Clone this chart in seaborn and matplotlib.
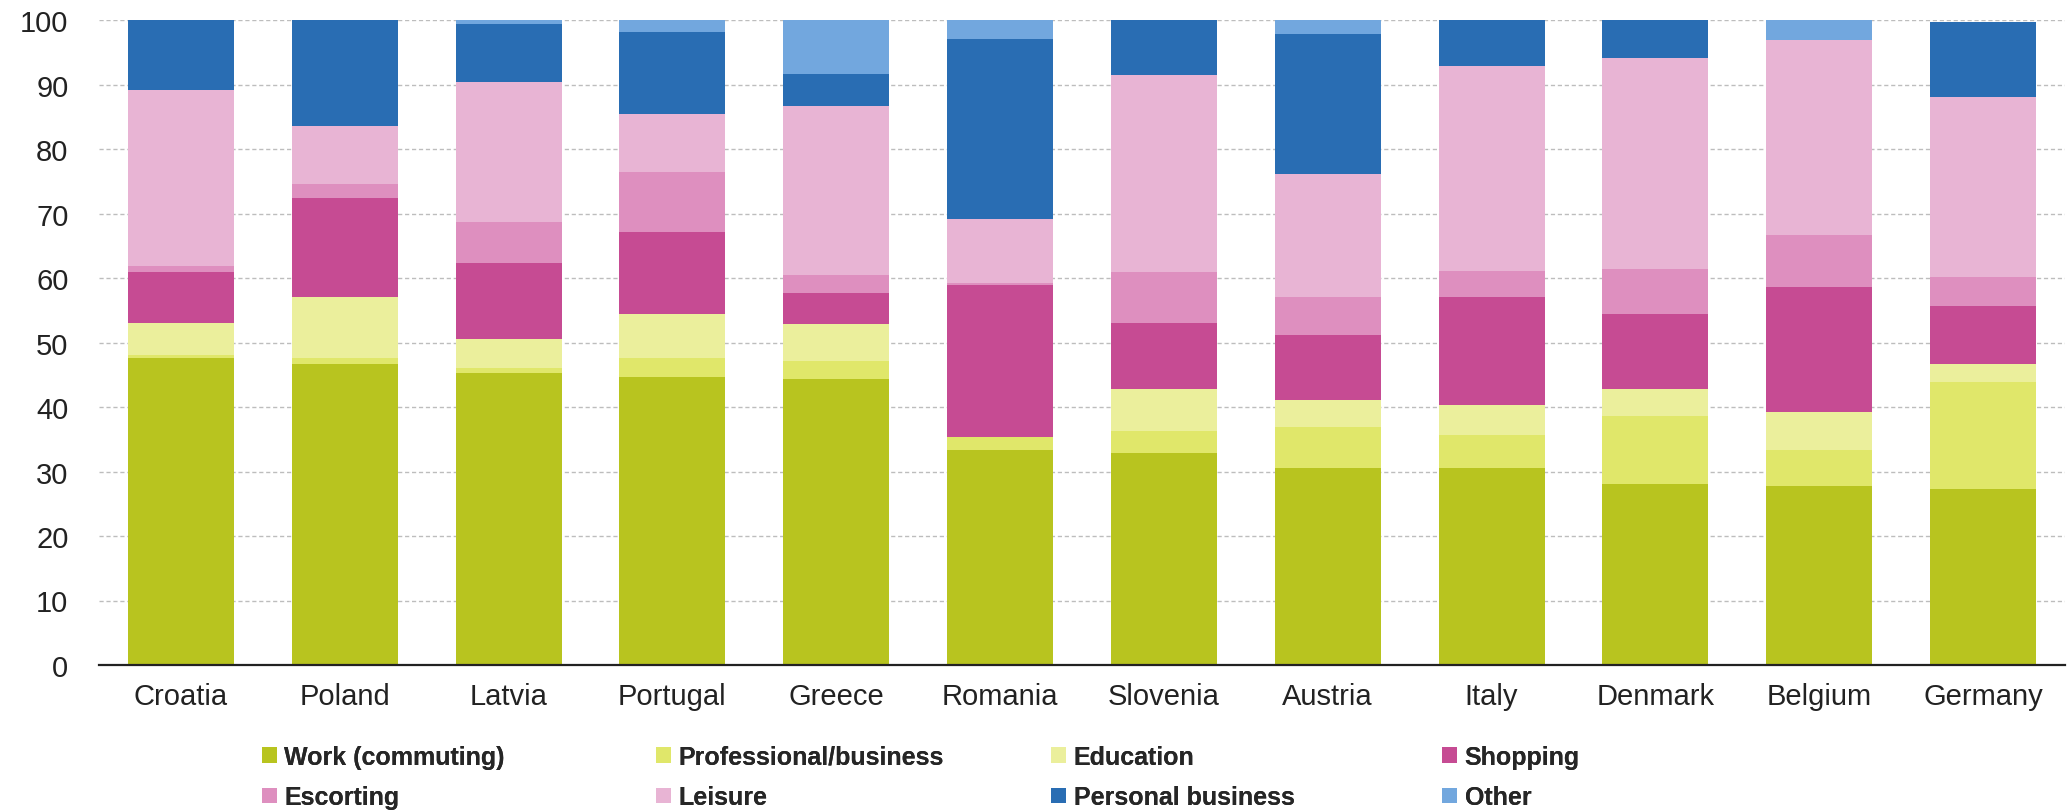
import matplotlib
matplotlib.use('Agg')
import numpy as np
import seaborn as sns
import matplotlib.pyplot as plt
from matplotlib.patches import Patch

# Data (percent of trips by purpose)
paises = ['Croatia', 'Poland', 'Latvia', 'Portugal', 'Greece', 'Romania',
          'Slovenia', 'Austria', 'Italy', 'Denmark', 'Belgium', 'Germany']

work = [47.6, 46.6, 45.2, 44.6, 44.4, 33.4, 32.8, 30.6, 30.6, 28.1, 27.8, 27.3]
professional = [0.5, 1.0, 0.9, 3.0, 2.7, 2.0, 3.5, 6.3, 5.0, 10.5, 5.6, 16.6]
education = [5.0, 9.5, 4.5, 6.8, 5.8, 0.0, 6.5, 4.2, 4.7, 4.2, 5.9, 2.7]
shopping = [7.8, 15.3, 11.8, 12.7, 4.7, 23.5, 10.3, 10.0, 16.8, 11.6, 19.3, 9.1]
escorting = [1.0, 2.2, 6.3, 9.3, 2.8, 0.4, 7.8, 6.0, 4.0, 7.0, 8.0, 4.5]
leisure = [27.3, 9.0, 21.7, 9.0, 26.2, 9.8, 30.5, 19.0, 31.8, 32.7, 30.3, 27.9]
personal = [10.8, 16.4, 9.0, 12.8, 5.1, 27.9, 8.6, 21.8, 7.1, 5.9, 0.0, 11.6]
other = [0.0, 0.0, 0.6, 1.8, 8.3, 3.0, 0.0, 2.1, 0.0, 0.0, 3.1, 0.0]

series = [work, professional, education, shopping, escorting, leisure, personal, other]
nomes = ['Work (commuting)', 'Professional/business', 'Education', 'Shopping',
         'Escorting', 'Leisure', 'Personal business', 'Other']
cores = ['#b8c41f', '#e0e76a', '#ebef9c', '#c64b93',
         '#de8fbf', '#e8b4d4', '#296db3', '#72a7de']

sns.set_style('white')
plt.rcParams['font.family'] = ['Liberation Sans', 'DejaVu Sans']

fig = plt.figure(figsize=(20.67, 8.12), dpi=100)
ax = fig.add_axes([99 / 2067, 1 - 666 / 812, 1966 / 2067, 645 / 812])

# Stacked bars: draw cumulative totals from top layer down
acumulado = np.cumsum(np.array(series), axis=0)
for i in range(len(series) - 1, -1, -1):
    sns.barplot(x=paises, y=acumulado[i], color=cores[i], saturation=1,
                width=0.646, linewidth=0, ax=ax)

ax.set_xlim(-0.5, 11.5)
ax.set_ylim(0, 100)
ax.set_yticks(range(0, 101, 10))
ax.set_xlabel('')
ax.set_ylabel('')

# Grid
ax.set_axisbelow(True)
ax.yaxis.grid(True, linestyle=(0, (3, 2)), color='#bdbdbd', linewidth=1)
ax.xaxis.grid(False)

# Spines and ticks
for lado in ['top', 'right', 'left']:
    ax.spines[lado].set_visible(False)
ax.spines['bottom'].set_color('#222222')
ax.spines['bottom'].set_linewidth(1.6)
ax.set_xticks(np.arange(-0.5, 12, 1), minor=True)
ax.tick_params(axis='x', which='major', length=0, pad=12, labelsize=21, labelcolor='#222222')
ax.tick_params(axis='x', which='minor', length=6, width=1.6, color='#222222', direction='out')
ax.tick_params(axis='y', length=0, pad=22, labelsize=21, labelcolor='#222222')

# Legend: 4 columns with equal spacing
colunas_x = [262, 656, 1051, 1442]
for c in range(4):
    handles = [Patch(facecolor=cores[c], edgecolor='none'),
               Patch(facecolor=cores[c + 4], edgecolor='none')]
    leg = fig.legend(handles, [nomes[c], nomes[c + 4]],
                     loc='upper left', bbox_to_anchor=(colunas_x[c] / 2067, 1 - 746 / 812),
                     frameon=False, borderpad=0, borderaxespad=0,
                     handlelength=0.6, handleheight=0.6, handletextpad=0.3,
                     labelspacing=0.65, prop={'weight': 'bold', 'size': 18})
    fig.add_artist(leg)

plt.savefig('out.png', dpi=100)
